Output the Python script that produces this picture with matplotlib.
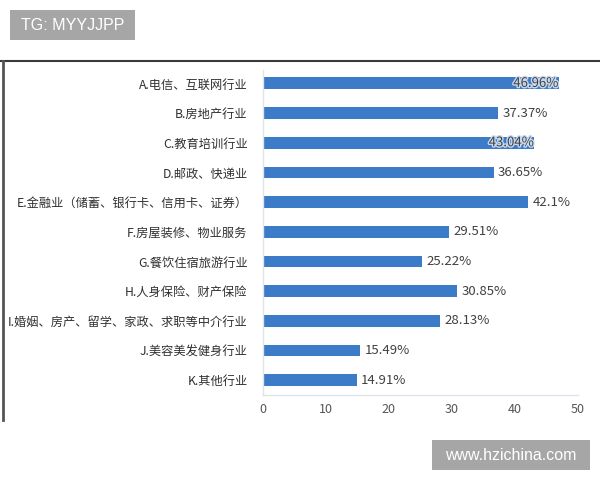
import matplotlib
matplotlib.use("Agg")
import matplotlib.pyplot as plt
import matplotlib.patheffects as pe
from matplotlib.lines import Line2D
from matplotlib.patches import Rectangle

plt.rcParams['font.family'] = ['Noto Sans CJK SC', 'DejaVu Sans']

# --> Data.
categories = [
    "A.电信、互联网行业",
    "B.房地产行业",
    "C.教育培训行业",
    "D.邮政、快递业",
    "E.金融业（储蓄、银行卡、信用卡、证券）",
    "F.房屋装修、物业服务",
    "G.餐饮住宿旅游行业",
    "H.人身保险、财产保险",
    "I.婚姻、房产、留学、家政、求职等中介行业",
    "J.美容美发健身行业",
    "K.其他行业",
]
values = [46.96, 37.37, 43.04, 36.65, 42.1, 29.51, 25.22, 30.85, 28.13, 15.49, 14.91]
labels = ["46.96%", "37.37%", "43.04%", "36.65%", "42.1%", "29.51%",
          "25.22%", "30.85%", "28.13%", "15.49%", "14.91%"]
inside = [True, False, True, False, False, False, False, False, False, False, False]
xticks = [0, 10, 20, 30, 40, 50]

fig = plt.figure(figsize=(6, 4.8), dpi=100)
ax = fig.add_axes([0.438, 0.177, 0.525, 0.677])

pos = list(range(len(categories)))
ax.barh(pos, values, height=0.4, color="#3b7bc8")

# --> Value labels.
for p, v, lab, ins in zip(pos, values, labels, inside):
    if ins:
        ax.text(v, p, lab, ha="right", va="center", fontsize=9.5, color="#404040",
                path_effects=[pe.withStroke(linewidth=2, foreground="#c8d8ee")])
    else:
        ax.text(v + 0.7, p, lab, ha="left", va="center", fontsize=9.5, color="#404040")

ax.set_xlim(0, 50)
ax.set_ylim(10.5, -0.45)
ax.set_yticks(pos)
ax.set_yticklabels(categories, fontsize=8.8, color="#303030")
ax.set_xticks(xticks)
ax.set_xticklabels([str(t) for t in xticks], fontsize=9, color="#555555")
ax.tick_params(axis="y", length=0, pad=11)
ax.tick_params(axis="x", length=0, pad=6)

for s in ["top", "right"]:
    ax.spines[s].set_visible(False)
for s in ["left", "bottom"]:
    ax.spines[s].set_color("#dde3ea")
    ax.spines[s].set_linewidth(1)

# --> Dark frame of the screenshot.
fig.add_artist(Line2D([0, 1], [1 - 61 / 480, 1 - 61 / 480], color="#3a3a3a", lw=1.5,
                      transform=fig.transFigure))
fig.add_artist(Line2D([3 / 600, 3 / 600], [1 - 61 / 480, 1 - 420 / 480], color="#555555",
                      lw=2, transform=fig.transFigure))

# --> Watermark boxes.
fig.add_artist(Rectangle((10 / 600, 1 - 40 / 480), 125 / 600, 30 / 480, fc="#a6a6a6",
                         ec="none", transform=fig.transFigure))
fig.text(72.5 / 600, 1 - 25 / 480, "TG: MYYJJPP", fontsize=11.5, color="white",
         va="center", ha="center", family="Liberation Sans")
fig.add_artist(Rectangle((432 / 600, 1 - 470 / 480), 158 / 600, 30 / 480, fc="#a6a6a6",
                         ec="none", transform=fig.transFigure))
fig.text(511 / 600, 1 - 455 / 480, "www.hzichina.com", fontsize=11.5, color="white",
         va="center", ha="center", family="Liberation Sans")

fig.savefig("out.png", dpi=100)
